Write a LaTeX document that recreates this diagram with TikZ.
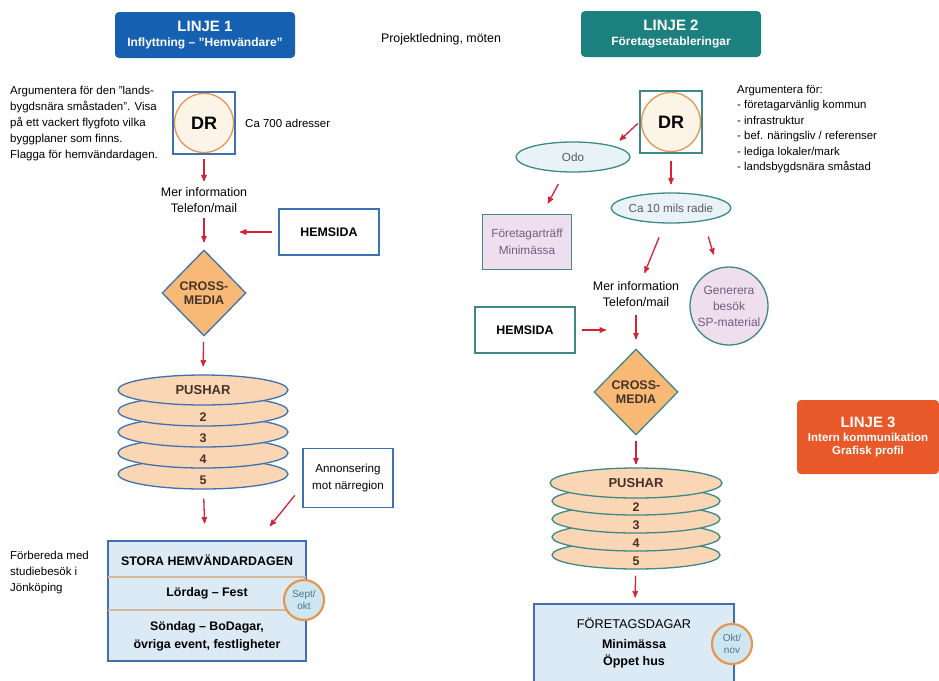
\documentclass[tikz,border=0pt]{standalone}
\usepackage{fontspec}
\setmainfont{Liberation Sans}
\usetikzlibrary{arrows,positioning,shapes,calc}
\definecolor{linjeblue}{RGB}{22,96,178}
\definecolor{linjeteal}{RGB}{28,128,126}
\definecolor{linjeorange}{RGB}{232,88,40}
\definecolor{edgeblue}{RGB}{62,112,178}
\definecolor{edgeteal}{RGB}{62,136,134}
\definecolor{arrowred}{RGB}{214,32,52}
\definecolor{creamfill}{RGB}{253,244,232}
\definecolor{ringorange}{RGB}{228,150,82}
\definecolor{diamondfill}{RGB}{248,184,118}
\definecolor{pushfill}{RGB}{250,214,180}
\definecolor{paleblue}{RGB}{220,234,246}
\definecolor{ovalfill}{RGB}{232,243,248}
\definecolor{datefill}{RGB}{206,230,240}
\definecolor{datetext}{RGB}{80,115,140}
\definecolor{pinkfill}{RGB}{238,222,238}
\definecolor{mauvetext}{RGB}{118,92,128}
\definecolor{tanline}{RGB}{214,184,150}
\definecolor{pushtext}{RGB}{70,50,40}
\definecolor{greytext}{RGB}{90,90,90}
\tikzset{
  title box/.style={
    rounded corners=4pt,
    minimum width=180,
    minimum height=46,
    inner sep=0pt,
    align=center,
    text=white,
    font=\bfseries\fontsize{12}{13}\selectfont
  },
  dr box/.style={
    draw,
    line width=1.3pt,
    fill=white,
    minimum size=62,
    inner sep=0pt,
    font=\bfseries\fontsize{18}{20}\selectfont,
    path picture={
      \draw[ringorange, fill=creamfill, line width=1.3pt] (path picture bounding box.center) circle[radius=29.5pt];
    }
  },
  side box/.style={
    draw,
    line width=1.3pt,
    fill=white,
    minimum width=100,
    minimum height=46,
    font=\bfseries\fontsize{12.4}{14}\selectfont
  },
  cross media/.style={
    diamond,
    aspect=1,
    draw,
    line width=1.3pt,
    fill=diamondfill,
    minimum width=84,
    minimum height=86,
    inner sep=0pt,
    align=center,
    text=pushtext,
    font=\bfseries\fontsize{12.5}{14}\selectfont
  },
  push/.style={
    ellipse,
    draw,
    line width=1.3pt,
    fill=pushfill,
    minimum width=170,
    minimum height=30,
    inner sep=0pt,
    text=pushtext,
    font=\bfseries\fontsize{13}{14}\selectfont
  },
  push label/.style={
    inner sep=0pt,
    text=pushtext,
    font=\bfseries\fontsize{12.5}{14}\selectfont
  },
  event box/.style={
    draw=edgeblue,
    line width=1.3pt,
    fill=paleblue,
    inner sep=0pt
  },
  date circle/.style={
    circle,
    draw=ringorange,
    line width=2.2pt,
    fill=datefill,
    minimum size=40,
    inner sep=0pt,
    align=center,
    text=datetext,
    font=\fontsize{10}{12}\selectfont
  },
  oval/.style={
    ellipse,
    draw=edgeteal,
    line width=1.3pt,
    fill=ovalfill,
    inner sep=0pt,
    text=greytext,
    font=\fontsize{11.7}{13}\selectfont
  },
  pink box/.style={
    draw=edgeteal,
    line width=1.3pt,
    fill=pinkfill,
    minimum width=89,
    minimum height=55,
    inner sep=0pt,
    align=center,
    text=mauvetext,
    font=\fontsize{11.8}{17}\selectfont
  },
  pink circle/.style={
    circle,
    draw=edgeteal,
    line width=1.3pt,
    fill=pinkfill,
    minimum size=78,
    inner sep=0pt,
    align=center,
    text=mauvetext,
    font=\fontsize{12}{16}\selectfont
  },
  note/.style={
    anchor=west,
    align=left,
    inner sep=0pt,
    font=\fontsize{11.5}{16}\selectfont
  },
  info/.style={
    align=center,
    inner sep=0pt,
    font=\fontsize{12.4}{16}\selectfont
  },
  note box/.style={
    draw=edgeblue,
    line width=1.3pt,
    fill=white,
    minimum width=90,
    minimum height=59,
    inner sep=0pt,
    align=center,
    font=\fontsize{11.6}{17}\selectfont
  },
  sep line/.style={
    draw=tanline,
    line width=1.5pt,
    shorten <=1pt,
    shorten >=1pt
  }
}
\begin{document}
\begin{tikzpicture}[%
        x=1pt,
        y=-1pt,
        >=stealth',
        flow/.style={->, color=arrowred, line width=1.3pt},
        bold text/.style={inner sep=0pt, font=\bfseries\fontsize{12.4}{18}\selectfont}]
      \useasboundingbox (0,0) rectangle (939,680);
      % rubriker
      \node[title box, fill=linjeblue]   (linje_1) at (205,35)  {{\fontsize{15}{17}\selectfont LINJE 1}\\[2pt]Inflyttning – "Hemvändare"};
      \node[title box, fill=linjeteal]   (linje_2) at (671,34)  {{\fontsize{15}{17}\selectfont LINJE 2}\\[2pt]Företagsetableringar};
      \node[title box, fill=linjeorange, minimum width=142, minimum height=74, font=\bfseries\fontsize{11.5}{13}\selectfont]
                                         (linje_3) at (868,437) {{\fontsize{15}{17}\selectfont LINJE 3}\\[1pt]Intern kommunikation\\Grafisk profil};
      \node[info]                        (ledning) at (441,39)  {Projektledning, möten};
      % linje 1
      \node[note]       (arg_1)     at (10,124)  {Argumentera för den "lands-\\bygdsnära småstaden". Visa\\på ett vackert flygfoto vilka\\byggplaner som finns.\\Flagga för hemvändardagen.};
      \node[dr box, draw=edgeblue]  (dr_1)      at (204,123) {DR};
      \node[note]       (adr_1)     at (245,123) {Ca 700 adresser};
      \node[info]       (info_1)    at (204,200) {Mer information\\Telefon/mail};
      \node[side box, draw=edgeblue] (hemsida_1) at (329,232) {HEMSIDA};
      \coordinate       (join_1)    at (240,232);
      \node[cross media, draw=edgeblue] (cross_1) at (204,293) {CROSS-\\MEDIA};
      \foreach \i/\y in {5/474, 4/453, 3/432, 2/411} {
        \node[push, draw=edgeblue] (push_1_\i) at (203,\y) {};
        \node[push label]          at (203,{\y+6})         {\i};
      }
      \node[push, draw=edgeblue]    (push_1)    at (203,390) {PUSHAR};
      \node[note box]   (annons_1)  at (348,478) {Annonsering\\mot närregion};
      \coordinate       (annons_end) at (270,526);
      \node[note]       (forb_1)    at (10,573)  {Förbereda med\\studiebesök i\\Jönköping};
      \node[event box, minimum width=198, minimum height=120] (stora_1) at (207,601) {};
      \node[bold text]  (stora_title) at (207,560) {STORA HEMVÄNDARDAGEN};
      \node[bold text]  (lordag_1)  at (207,593) {Lördag – Fest};
      \node[bold text, align=center] (sondag_1) at (207,636) {Söndag – BoDagar,\\övriga event, festligheter};
      \draw[sep line] (stora_1.west |- 0,577) -- (stora_1.east |- 0,577);
      \draw[sep line] (stora_1.west |- 0,610) -- (stora_1.east |- 0,610);
      \node[date circle] (sept_1)   at (304,600) {Sept/\\okt};
      \path[flow] (dr_1)       edge [shorten <=4pt, shorten >=6pt]  (info_1)
                  (info_1)     edge [shorten <=5pt, shorten >=7pt]  (cross_1)
                  (hemsida_1)  edge [shorten <=6pt]                 (join_1)
                  (cross_1)    edge [shorten <=6pt, shorten >=8pt]  (push_1)
                  (push_1_5)   edge [shorten <=9pt, shorten >=17pt] (stora_1)
                  (annons_1.190) edge [shorten <=12pt]              (annons_end);
      % linje 2
      \node[dr box, draw=edgeteal]  (dr_2)      at (671,122) {DR};
      \node[note, font=\fontsize{11.4}{15.5}\selectfont]
                        (arg_2)     at (737,129) {Argumentera för:\\- företagarvänlig kommun\\- infrastruktur\\- bef. näringsliv / referenser\\- lediga lokaler/mark\\- landsbygdsnära småstad};
      \node[oval, minimum width=114, minimum height=30] (odo_2)   at (573,157) {Odo};
      \node[oval, minimum width=112, minimum height=30] (radie_2) at (671,208) {Ca 10 mils radie};
      \node[pink box]   (frtr_2)    at (527,242) {Företagarträff\\Minimässa};
      \node[info]       (info_2)    at (636,294) {Mer information\\Telefon/mail};
      \node[pink circle] (gen_2)    at (729,306) {Generera\\besök\\SP-material};
      \node[side box, draw=edgeteal] (hemsida_2) at (525,330) {HEMSIDA};
      \coordinate       (join_2)    at (606,330);
      \node[cross media, draw=edgeteal] (cross_2) at (636,392) {CROSS-\\MEDIA};
      \foreach \i/\y in {5/555, 4/537, 3/519, 2/501} {
        \node[push, draw=edgeteal, minimum width=168, minimum height=28] (push_2_\i) at (636,\y) {};
        \node[push label]          at (636,{\y+6})         {\i};
      }
      \node[push, draw=edgeteal, minimum width=172, minimum height=30] (push_2) at (636,483) {PUSHAR};
      \node[event box, minimum width=200, minimum height=92] (foretag_2) at (634,650) {};
      \node[inner sep=0pt, font=\fontsize{12.7}{14}\selectfont] (foretag_title) at (634,623) {FÖRETAGSDAGAR};
      \node[bold text, align=center, font=\bfseries\fontsize{12.5}{17}\selectfont] (oppet_2) at (634,654) {Minimässa\\Öppet hus};
      \node[date circle] (okt_2)    at (732,644) {Okt/\\nov};
      \path[flow] (dr_2.west)  edge [shorten <=2pt, shorten >=8pt]   (odo_2.north east)
                  (dr_2)       edge [shorten <=7pt, shorten >=8pt]   (radie_2)
                  (odo_2)      edge [shorten <=13pt, shorten >=12pt] (frtr_2)
                  (radie_2)    edge [shorten <=15pt, shorten >=9pt]  (info_2)
                  (radie_2.-22) edge [shorten <=16pt, shorten >=14pt] (gen_2)
                  (hemsida_2)  edge [shorten <=6pt]                  (join_2)
                  (info_2)     edge [shorten <=8pt, shorten >=9pt]   (cross_2)
                  (cross_2)    edge [shorten <=5pt, shorten >=3pt]   (push_2)
                  (push_2_5)   edge [shorten <=6pt, shorten >=6pt]   (foretag_2);
    \end{tikzpicture}
\end{document}
